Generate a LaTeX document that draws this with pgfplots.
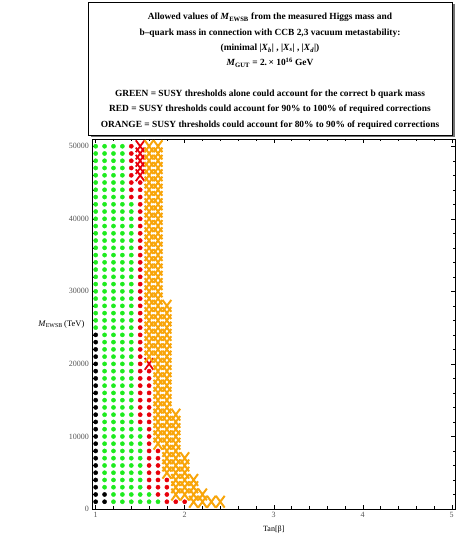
\documentclass[border=0pt]{standalone}
\usepackage{pgfplots}
\pgfplotsset{compat=1.18}
\usepackage{fontspec}
\setmainfont{Liberation Serif}
\definecolor{mgreen}{RGB}{30,235,30}
\definecolor{mred}{RGB}{232,0,10}
\definecolor{morange}{RGB}{248,165,10}
\definecolor{ticktext}{RGB}{85,85,85}
\begin{document}
\begin{tikzpicture}
\useasboundingbox (0pt,0pt) rectangle (457pt,535pt);
% title box with shadow
\fill[black!55] (90.5pt,398pt) rectangle (454.5pt,531pt);
\draw[fill=white, line width=0.6pt] (88pt,400pt) rectangle (452pt,533pt);
\begin{scope}[every node/.style={font=\fontsize{9.4}{11}\selectfont\bfseries, anchor=base, inner sep=0pt}]
\node at (270pt,515pt) {Allowed values of \textit{M}\textsubscript{EWSB} from the measured Higgs mass and};
\node at (270pt,499pt) {b\textendash quark mass in connection with CCB 2,3 vacuum metastability:};
\node at (270pt,484pt) {(minimal |\textit{X}\textsubscript{\textit{b}}| , |\textit{X}\textsubscript{\textit{s}}| , |\textit{X}\textsubscript{\textit{d}}|)};
\node at (270pt,469pt) {\textit{M}\textsubscript{GUT} = 2.\,× 10\textsuperscript{16} GeV};
\node at (270pt,438pt) {GREEN = SUSY thresholds alone could account for the correct b quark mass};
\node at (270pt,423pt) {RED = SUSY thresholds could account for 90\% to 100\% of required corrections};
\node at (270pt,407pt) {ORANGE = SUSY thresholds could account for 80\% to 90\% of required corrections};
\end{scope}
\begin{axis}[
  at={(92.3pt,26pt)}, anchor=south west,
  scale only axis, width=363pt, height=370pt,
  xmin=0.962, xmax=5.04, ymin=0, ymax=51000,
  xtick={1,2,3,4,5}, ytick={0,10000,20000,30000,40000,50000},
  minor x tick num=4, minor y tick num=4,
  tick align=inside, major tick length=4pt, minor tick length=2.5pt,
  scaled y ticks=false,
  axis line style={line width=0.5pt},
  every tick/.style={black, line width=0.4pt},
  yticklabel style={/pgf/number format/fixed, /pgf/number format/1000 sep={}},
  /pgf/number format/assume math mode=true,
  tick label style={font=\fontsize{8}{9}\selectfont, text=ticktext},
  xlabel={Tan[β]}, ylabel={\textit{M}\textsubscript{EWSB}\,(TeV)},
  every axis x label/.style={at={(axis description cs:0.5,0)}, anchor=north, yshift=-13pt, font=\fontsize{8}{9}\selectfont},
  every axis y label/.style={at={(axis description cs:-0.012,0.5)}, anchor=east, font=\fontsize{8.5}{10}\selectfont},
  clip=false,
]
% black dots
\addplot[only marks, mark=*, mark size=2.1pt, black] coordinates {
(1,1000)(1,2000)(1,3000)(1,4000)(1,5000)(1,6000)(1,7000)(1,8000)(1,9000)(1,10000)
(1,11000)(1,12000)(1,13000)(1,14000)(1,15000)(1,16000)(1,17000)(1,18000)(1,19000)(1,20000)
(1,21000)(1,22000)(1,23000)(1,24000)
(1.1,1000)(1.1,2000)
};
% green dots
\addplot[only marks, mark=*, mark size=2.1pt, mgreen] coordinates {
(1,25000)(1,26000)(1,27000)(1,28000)(1,29000)(1,30000)
(1,31000)(1,32000)(1,33000)(1,34000)(1,35000)(1,36000)(1,37000)(1,38000)(1,39000)(1,40000)
(1,41000)(1,42000)(1,43000)(1,44000)(1,45000)(1,46000)(1,47000)(1,48000)(1,49000)(1,50000)
(1.1,3000)(1.1,4000)(1.1,5000)(1.1,6000)(1.1,7000)(1.1,8000)(1.1,9000)(1.1,10000)
(1.1,11000)(1.1,12000)(1.1,13000)(1.1,14000)(1.1,15000)(1.1,16000)(1.1,17000)(1.1,18000)(1.1,19000)(1.1,20000)
(1.1,21000)(1.1,22000)(1.1,23000)(1.1,24000)(1.1,25000)(1.1,26000)(1.1,27000)(1.1,28000)(1.1,29000)(1.1,30000)
(1.1,31000)(1.1,32000)(1.1,33000)(1.1,34000)(1.1,35000)(1.1,36000)(1.1,37000)(1.1,38000)(1.1,39000)(1.1,40000)
(1.1,41000)(1.1,42000)(1.1,43000)(1.1,44000)(1.1,45000)(1.1,46000)(1.1,47000)(1.1,48000)(1.1,49000)(1.1,50000)
(1.2,1000)(1.2,2000)(1.2,3000)(1.2,4000)(1.2,5000)(1.2,6000)(1.2,7000)(1.2,8000)(1.2,9000)(1.2,10000)
(1.2,11000)(1.2,12000)(1.2,13000)(1.2,14000)(1.2,15000)(1.2,16000)(1.2,17000)(1.2,18000)(1.2,19000)(1.2,20000)
(1.2,21000)(1.2,22000)(1.2,23000)(1.2,24000)(1.2,25000)(1.2,26000)(1.2,27000)(1.2,28000)(1.2,29000)(1.2,30000)
(1.2,31000)(1.2,32000)(1.2,33000)(1.2,34000)(1.2,35000)(1.2,36000)(1.2,37000)(1.2,38000)(1.2,39000)(1.2,40000)
(1.2,41000)(1.2,42000)(1.2,43000)(1.2,44000)(1.2,45000)(1.2,46000)(1.2,47000)(1.2,48000)(1.2,49000)(1.2,50000)
(1.3,1000)(1.3,2000)(1.3,3000)(1.3,4000)(1.3,5000)(1.3,6000)(1.3,7000)(1.3,8000)(1.3,9000)(1.3,10000)
(1.3,11000)(1.3,12000)(1.3,13000)(1.3,14000)(1.3,15000)(1.3,16000)(1.3,17000)(1.3,18000)(1.3,19000)(1.3,20000)
(1.3,21000)(1.3,22000)(1.3,23000)(1.3,24000)(1.3,25000)(1.3,26000)(1.3,27000)(1.3,28000)(1.3,29000)(1.3,30000)
(1.3,31000)(1.3,32000)(1.3,33000)(1.3,34000)(1.3,35000)(1.3,36000)(1.3,37000)(1.3,38000)(1.3,39000)(1.3,40000)
(1.3,41000)(1.3,42000)(1.3,43000)(1.3,44000)(1.3,45000)(1.3,46000)(1.3,47000)(1.3,48000)(1.3,49000)(1.3,50000)
(1.4,1000)(1.4,2000)(1.4,3000)(1.4,4000)(1.4,5000)(1.4,6000)(1.4,7000)(1.4,8000)(1.4,9000)(1.4,10000)
(1.4,11000)(1.4,12000)(1.4,13000)(1.4,14000)(1.4,15000)(1.4,16000)(1.4,17000)(1.4,18000)(1.4,19000)(1.4,20000)
(1.4,21000)(1.4,22000)(1.4,23000)(1.4,24000)(1.4,25000)(1.4,26000)(1.4,27000)(1.4,28000)(1.4,29000)(1.4,30000)
(1.4,31000)(1.4,32000)(1.4,33000)(1.4,34000)(1.4,35000)(1.4,36000)(1.4,37000)(1.4,38000)(1.4,39000)(1.4,40000)
(1.4,41000)(1.4,42000)
(1.5,1000)(1.5,2000)(1.5,3000)(1.5,4000)(1.5,5000)(1.5,6000)(1.5,7000)(1.5,8000)(1.5,9000)(1.5,10000)
(1.5,11000)
(1.6,1000)(1.6,2000)
(1.7,1000)
};
% red dots
\addplot[only marks, mark=*, mark size=2.1pt, mred] coordinates {
(1.4,43000)(1.4,44000)(1.4,45000)(1.4,46000)(1.4,47000)(1.4,48000)(1.4,49000)(1.4,50000)
(1.5,12000)(1.5,13000)(1.5,14000)(1.5,15000)(1.5,16000)(1.5,17000)(1.5,18000)(1.5,19000)(1.5,20000)
(1.5,21000)(1.5,22000)(1.5,23000)(1.5,24000)(1.5,25000)(1.5,26000)(1.5,27000)(1.5,28000)(1.5,29000)(1.5,30000)
(1.5,31000)(1.5,32000)(1.5,33000)(1.5,34000)(1.5,35000)(1.5,36000)(1.5,37000)(1.5,38000)(1.5,39000)(1.5,40000)
(1.5,41000)(1.5,42000)(1.5,43000)(1.5,44000)(1.5,45000)
(1.6,3000)(1.6,4000)(1.6,5000)(1.6,6000)(1.6,7000)(1.6,8000)(1.6,9000)(1.6,10000)
(1.6,11000)(1.6,12000)(1.6,13000)(1.6,14000)(1.6,15000)(1.6,16000)(1.6,17000)(1.6,18000)(1.6,19000)
(1.7,2000)(1.7,3000)(1.7,4000)(1.7,5000)(1.7,6000)(1.7,7000)(1.7,8000)
(1.8,1000)(1.8,2000)(1.8,3000)(1.8,4000)
(1.9,1000)(2.0,1000)
};
% red crosses
\addplot[only marks, mark=x, mark size=6.2pt, line width=1.8pt, mred, mark options={yscale=1.35}] coordinates {
(1.5,46000)(1.5,47000)(1.5,48000)(1.5,49000)(1.5,50000)
(1.6,20000)
};
% orange crosses
\addplot[only marks, mark=x, mark size=6.2pt, line width=2pt, morange, mark options={yscale=1.35}] coordinates {
(1.6,21000)(1.6,22000)(1.6,23000)(1.6,24000)(1.6,25000)(1.6,26000)(1.6,27000)(1.6,28000)(1.6,29000)(1.6,30000)
(1.6,31000)(1.6,32000)(1.6,33000)(1.6,34000)(1.6,35000)(1.6,36000)(1.6,37000)(1.6,38000)(1.6,39000)(1.6,40000)
(1.6,41000)(1.6,42000)(1.6,43000)(1.6,44000)(1.6,45000)(1.6,46000)(1.6,47000)(1.6,48000)(1.6,49000)(1.6,50000)
(1.7,9000)(1.7,10000)
(1.7,11000)(1.7,12000)(1.7,13000)(1.7,14000)(1.7,15000)(1.7,16000)(1.7,17000)(1.7,18000)(1.7,19000)(1.7,20000)
(1.7,21000)(1.7,22000)(1.7,23000)(1.7,24000)(1.7,25000)(1.7,26000)(1.7,27000)(1.7,28000)(1.7,29000)(1.7,30000)
(1.7,31000)(1.7,32000)(1.7,33000)(1.7,34000)(1.7,35000)(1.7,36000)(1.7,37000)(1.7,38000)(1.7,39000)(1.7,40000)
(1.7,41000)(1.7,42000)(1.7,43000)(1.7,44000)(1.7,45000)(1.7,46000)(1.7,47000)(1.7,48000)(1.7,49000)(1.7,50000)
(1.8,5000)(1.8,6000)(1.8,7000)(1.8,8000)(1.8,9000)(1.8,10000)
(1.8,11000)(1.8,12000)(1.8,13000)(1.8,14000)(1.8,15000)(1.8,16000)(1.8,17000)(1.8,18000)(1.8,19000)(1.8,20000)
(1.8,21000)(1.8,22000)(1.8,23000)(1.8,24000)(1.8,25000)(1.8,26000)(1.8,27000)(1.8,28000)
(1.9,2000)(1.9,3000)(1.9,4000)(1.9,5000)(1.9,6000)(1.9,7000)(1.9,8000)(1.9,9000)(1.9,10000)
(1.9,11000)(1.9,12000)(1.9,13000)
(2.0,2000)(2.0,3000)(2.0,4000)(2.0,5000)(2.0,6000)(2.0,7000)
(2.1,1000)(2.1,2000)(2.1,3000)(2.1,4000)
(2.2,1000)(2.2,2000)
(2.3,1000)(2.4,1000)
};
\end{axis}
\end{tikzpicture}
\end{document}
